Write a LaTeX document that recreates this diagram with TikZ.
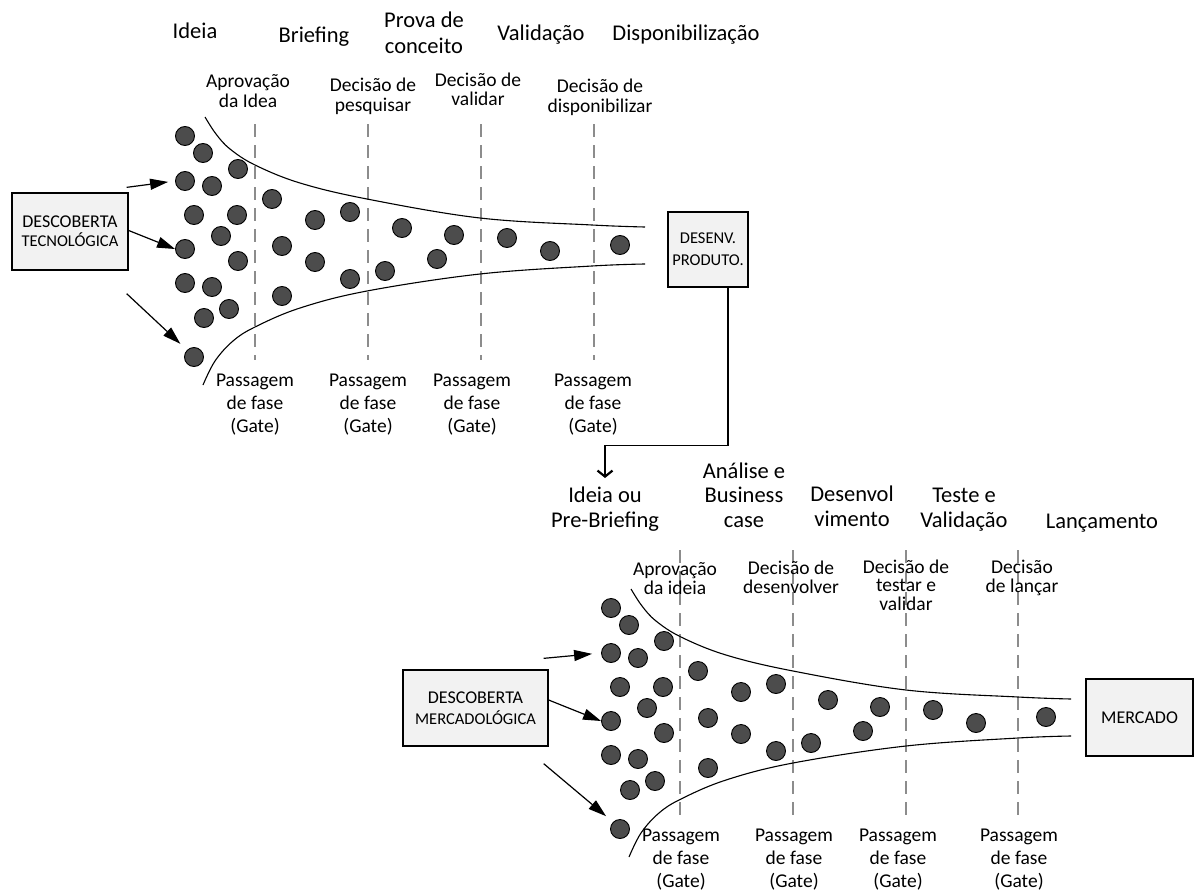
\documentclass[tikz,border=0pt]{standalone}
\usepackage{fontspec}
\setmainfont{Carlito}
\usetikzlibrary{arrows.meta}
\begin{document}
% Multi-line labels are anchored at the baseline of their last line.
\begin{tikzpicture}[x=1pt,y=-1pt,
  phase/.style={align=center, anchor=base, inner sep=0pt, font=\fontsize{22.5}{26}\selectfont},
  phaseb/.style={phase, font=\fontsize{22.5}{24.5}\selectfont},
  decide/.style={align=center, anchor=base, inner sep=0pt, font=\fontsize{19.5}{19.5}\selectfont},
  decideb/.style={decide, font=\fontsize{19.5}{18.5}\selectfont},
  gate/.style={align=center, anchor=base, inner sep=0pt, font=\fontsize{19.5}{23}\selectfont},
  srcbox/.style={draw=black, line width=1.3pt, fill=black!5, align=center, inner sep=0pt},
  dot/.style={circle, draw=black, line width=0.9pt, fill=black!70, minimum size=19pt, inner sep=0pt},
  funnelline/.style={draw=black, line width=1.1pt},
  gateline/.style={draw=black!45, line width=1.2pt, dash pattern=on 13pt off 8pt},
  feed/.style={draw=black, line width=1.2pt, -{Triangle[length=18pt,width=11pt]}},
  conn/.style={draw=black, line width=1.3pt, -{Straight Barb[length=6pt,width=15pt,line width=2.2pt]}},
  funnel/.pic={
    \draw[funnelline] plot[smooth, tension=0.6] coordinates {(205,117) (216,134) (230,149) (255,165) (300,183) (367,199) (480,218) (592,225) (645,227)};
    \draw[funnelline] plot[smooth, tension=0.6] coordinates {(203,385) (215,361) (233,341) (255,327) (300,308) (367,291) (480,274) (592,266) (645,264)};
    \foreach \px/\py [count=\i] in {185/136, 203/153, 238/169, 185/181, 212/186, 194/215, 237/215, 221/236, 185/249, 238/261, 185/283, 212/287, 204/318, 229/309, 194/357, 272/199, 282/246, 282/296, 315/220, 350/212, 402/228, 454/235, 507/238, 550/251, 620/245, 315/262, 350/279, 385/271, 437/259}
      \node[dot] (-d\i) at (\px,\py) {};
  }
]
\useasboundingbox (0,0) rectangle (1194,891);

% ---------- technology funnel ----------
\foreach \gx in {255,368,481,594}
  \draw[gateline] (\gx,124) -- (\gx,360);
\pic (T) at (0,0) {funnel};

\node[phase] (tp1) at (195,39) {Ideia};
\node[phase] (tp2) at (314,43) {Briefing};
\node[phase] (tp3) at (424,54) {Prova de\\conceito};
\node[phase] (tp4) at (541,41) {Validação};
\node[phase] (tp5) at (686,41) {Disponibilização};

\node[decide] (td1) at (248,107) {Aprovação\\da Idea};
\node[decide] (td2) at (373,111) {Decisão de\\pesquisar};
\node[decide] (td3) at (478,106) {Decisão de\\validar};
\node[decide] (td4) at (600,112) {Decisão de\\disponibilizar};

\node[gate] (tg1) at (255,432) {Passagem\\de fase\\(Gate)};
\node[gate] (tg2) at (368,432) {Passagem\\de fase\\(Gate)};
\node[gate] (tg3) at (472,432) {Passagem\\de fase\\(Gate)};
\node[gate] (tg4) at (593,432) {Passagem\\de fase\\(Gate)};

\node[srcbox, minimum width=116pt, minimum height=77pt, font=\fontsize{18}{19}\selectfont] (tec) at (70,231.5)
  {DESCOBERTA\\{\fontsize{16.5}{19}\selectfont TECNOLÓGICA}};
\node[srcbox, minimum width=80pt, minimum height=75pt, font=\fontsize{16.5}{22}\selectfont] (prod) at (708,249.5)
  {DESENV.\\PRODUTO.};

\draw[feed, shorten >=7pt] ([shift={(-2,-5)}]tec.north east) -- (T-d4.west);
\draw[feed] ([shift={(0,-1)}]tec.east) -- (T-d9.west);
\draw[feed, shorten >=9pt] ([shift={(-2,23)}]tec.south east) -- (T-d15.north west);

% ---------- market funnel ----------
\foreach \gx in {680,793,906,1018}
  \draw[gateline] (\gx,550) -- (\gx,822);
\pic (B) at (426,472) {funnel};

\node[phaseb] (bp1) at (605,527) {Ideia ou\\Pre-Briefing};
\node[phaseb] (bp2) at (744,527) {Análise e\\Business\\case};
\node[phaseb] (bp3) at (852,526) {Desenvol\\vimento};
\node[phaseb] (bp4) at (964,527) {Teste e\\Validação};
\node[phaseb] (bp5) at (1102,528) {Lançamento};

\node[decideb] (bd1) at (675,594) {Aprovação\\da ideia};
\node[decideb] (bd2) at (791,593) {Decisão de\\desenvolver};
\node[decideb] (bd3) at (906,610) {Decisão de\\testar e\\validar};
\node[decideb] (bd4) at (1022,592) {Decisão\\de lançar};

\node[gate] (bg1) at (681,887) {Passagem\\de fase\\(Gate)};
\node[gate] (bg2) at (794,887) {Passagem\\de fase\\(Gate)};
\node[gate] (bg3) at (898,887) {Passagem\\de fase\\(Gate)};
\node[gate] (bg4) at (1019,887) {Passagem\\de fase\\(Gate)};

\node[srcbox, minimum width=145pt, minimum height=76pt, font=\fontsize{18}{21}\selectfont] (mer) at (475.5,708)
  {DESCOBERTA\\{\fontsize{16.5}{21}\selectfont MERCADOLÓGICA}};
\node[srcbox, minimum width=107pt, minimum height=77pt, font=\fontsize{18}{20}\selectfont] (mkt) at (1139.5,717.5)
  {MERCADO};

\draw[feed, shorten >=9pt] ([shift={(-5,-11)}]mer.north east) -- (B-d4.west);
\draw[feed] ([shift={(0,-8)}]mer.east) -- (B-d9.west);
\draw[feed, shorten >=9pt] ([shift={(-5,17)}]mer.south east) -- (B-d15.north west);

% ---------- hand-over from product development ----------
\coordinate (pbIn) at (605,478);
\draw[conn] ([xshift=20pt]prod.south) -- ++(0,158) -| (pbIn);

\end{tikzpicture}
\end{document}
